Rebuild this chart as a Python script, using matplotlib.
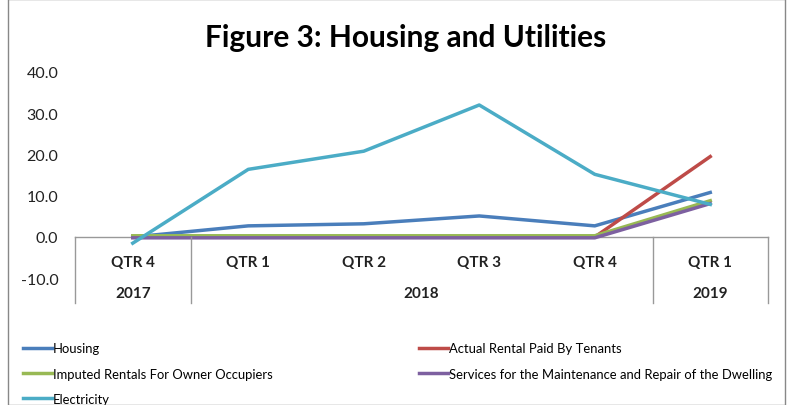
import matplotlib
matplotlib.use("Agg")
import matplotlib.pyplot as plt
from matplotlib.patches import Rectangle

plt.rcParams['font.family'] = ['Lato', 'DejaVu Sans']

quarters = ['QTR 4', 'QTR 1', 'QTR 2', 'QTR 3', 'QTR 4', 'QTR 1']
years = ['2017', '2018', '2019']
year_spans = [(0, 0), (1, 4), (5, 5)]

housing = [0.0, 2.7, 3.2, 5.1, 2.7, 10.8]
actual_rental = [0.0, 0.0, 0.0, 0.0, 0.0, 19.5]
imputed_rentals = [0.3, 0.3, 0.3, 0.3, 0.3, 8.8]
maintenance = [-0.2, -0.2, -0.2, -0.2, -0.2, 8.1]
electricity = [-1.5, 16.4, 20.8, 32.0, 15.2, 7.9]

series = [
    ('Housing', housing, '#4A7EBB'),
    ('Actual Rental Paid By Tenants', actual_rental, '#BE4B48'),
    ('Imputed Rentals For Owner Occupiers', imputed_rentals, '#98B954'),
    ('Services for the Maintenance and Repair of the Dwelling', maintenance, '#7D60A0'),
    ('Electricity', electricity, '#4BACC6'),
]

W, H = 791, 406
fig = plt.figure(figsize=(W / 100, H / 100), dpi=100)
fig.patches.append(Rectangle((8 / W, 0), 777 / W, 1, transform=fig.transFigure,
                             fill=False, edgecolor='#888888', lw=1))

ax = fig.add_axes([75 / W, 1 - 304 / H, 693 / W, 231 / H])
x = list(range(len(quarters)))
handles = {}
for name, vals, col in series:
    ln, = ax.plot(x, vals, color=col, lw=2.5, label=name, clip_on=False)
    handles[name] = ln

ax.set_xlim(-0.5, len(quarters) - 0.5)
ax.set_ylim(-16, 40)
ax.set_yticks([-10, 0, 10, 20, 30, 40])
ax.set_yticklabels([f"{v:.1f}" for v in [-10, 0, 10, 20, 30, 40]])
ax.tick_params(axis='y', length=0, pad=12, labelsize=11.5, labelcolor='#222222')
ax.set_xticks([])
for s in ax.spines.values():
    s.set_visible(False)

# category table under the zero line
ax.plot([-0.5, len(quarters) - 0.5], [0, 0], color='#999999', lw=1, zorder=0, clip_on=False)
bounds = [-0.5] + [e + 0.5 for _, e in year_spans]
for b in bounds:
    ax.plot([b, b], [0, -16], color='#999999', lw=1, clip_on=False)
for i, q in enumerate(quarters):
    ax.text(i, -6, q, ha='center', va='center', fontsize=11, fontweight='bold', color='#222222')
for yr, (s, e) in zip(years, year_spans):
    ax.text((s + e) / 2, -13.5, yr, ha='center', va='center', fontsize=11, fontweight='bold', color='#222222')

fig.text(406 / W, 1 - 38 / H, 'Figure 3: Housing and Utilities', ha='center', va='center',
         fontsize=21.5, fontweight='bold')

left_names = ['Housing', 'Imputed Rentals For Owner Occupiers', 'Electricity']
right_names = ['Actual Rental Paid By Tenants', 'Services for the Maintenance and Repair of the Dwelling']
common = dict(frameon=False, fontsize=9.4, handlelength=2.2, handletextpad=0.1,
              labelspacing=1.02, loc='upper left', borderaxespad=0)
leg1 = fig.legend([handles[n] for n in left_names], left_names,
                  bbox_to_anchor=(18 / W, 1 - 338 / H), **common)
leg2 = fig.legend([handles[n] for n in right_names], right_names,
                  bbox_to_anchor=(414 / W, 1 - 338 / H), **common)

fig.savefig('out.png', dpi=100)
